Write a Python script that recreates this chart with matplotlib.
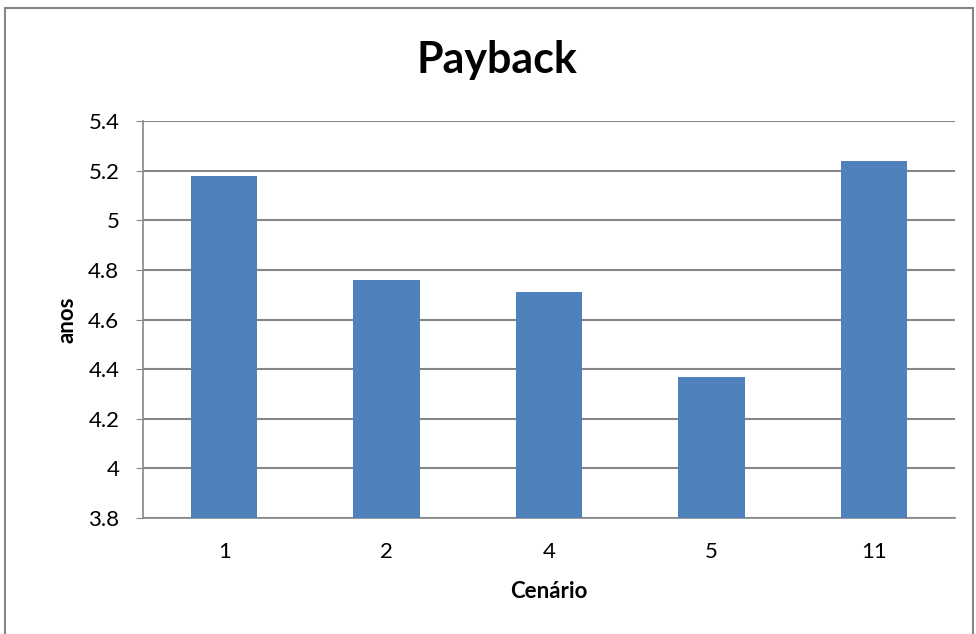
import matplotlib
matplotlib.use("Agg")
import matplotlib.pyplot as plt
from matplotlib.patches import Rectangle
import numpy as np

plt.rcParams['font.family'] = ['Lato', 'DejaVu Sans']

# payback time per scenario
cenarios = ["1", "2", "4", "5", "11"]
payback = [5.18, 4.76, 4.71, 4.37, 5.24]
y_ticks = [3.8, 4.0, 4.2, 4.4, 4.6, 4.8, 5.0, 5.2, 5.4]
y_tick_labels = ["3.8", "4", "4.2", "4.4", "4.6", "4.8", "5", "5.2", "5.4"]

bar_color = "#4F81BD"
line_color = "#868686"

fig = plt.figure(figsize=(9.76, 6.34), dpi=100)
ax = fig.add_axes([0.1465, 0.183, 0.832, 0.626])

x = np.arange(len(cenarios))
ax.bar(x, payback, width=0.41, color=bar_color, zorder=3)

ax.set_xlim(-0.5, len(cenarios) - 0.5)
ax.set_ylim(3.8, 5.4)
ax.set_yticks(y_ticks)
ax.set_yticklabels(y_tick_labels)
ax.set_xticks(x)
ax.set_xticklabels(cenarios)

ax.yaxis.grid(True, color=line_color, linewidth=1.5, zorder=0)
ax.set_axisbelow(True)
for side in ["top", "right"]:
    ax.spines[side].set_visible(False)
for side in ["left", "bottom"]:
    ax.spines[side].set_color(line_color)
    ax.spines[side].set_linewidth(1.2)

ax.tick_params(axis="y", length=5, color=line_color, labelsize=16, pad=12)
ax.tick_params(axis="x", length=0, labelsize=16, pad=17)

ax.set_xlabel("Cenário", fontsize=16, fontweight="bold", labelpad=14)
ax.set_ylabel("anos", fontsize=16, fontweight="bold", labelpad=8)
fig.text(0.509, 0.905, "Payback", ha="center", va="center",
         fontsize=31, fontweight="bold")

# chart border
fig.patches.append(Rectangle((5 / 976, -0.01), 968 / 976, 0.997, transform=fig.transFigure,
                             fill=False, edgecolor=line_color, linewidth=1.5))

fig.savefig("out.png", dpi=100)
